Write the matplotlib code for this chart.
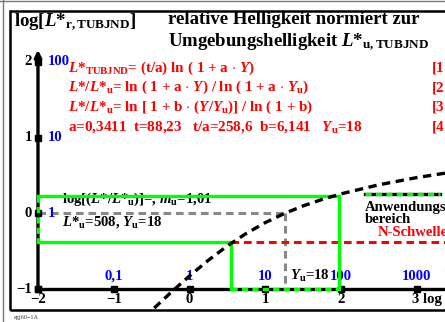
import matplotlib
matplotlib.use("Agg")
from matplotlib import pyplot as plt
from matplotlib.lines import Line2D

plt.rcParams['font.family'] = 'Liberation Serif'
plt.rcParams['font.weight'] = 'bold'
plt.rcParams['mathtext.fontset'] = 'custom'
plt.rcParams['mathtext.rm'] = 'Liberation Serif:bold'
plt.rcParams['mathtext.bf'] = 'Liberation Serif:bold'
plt.rcParams['mathtext.it'] = 'Liberation Serif:italic:bold'
plt.rcParams['lines.scale_dashes'] = False

# relative lightness curve: log Y against log(L*/L*u)
curve_logY = [-0.6, -0.5, -0.25, 0.0, 0.25, 0.5, 0.75, 1.0, 1.25, 1.5, 1.75,
              2.0, 2.5, 3.0, 3.5]
curve_logL = [-1.378, -1.283, -1.049, -0.826, -0.618, -0.429, -0.264, -0.122,
              -0.002, 0.099, 0.184, 0.258, 0.378, 0.473, 0.551]

# range of application (green) and threshold level
range_logY = [0.55, 1.97]
range_logL = [-0.38, 0.225]
log_Yu = 1.255

x_ticks = [-2, -1, 0, 1, 2, 3]
x_labels = ['\u22122', '\u22121', '0', '1', '2', '3 log']
y_ticks = [-1, 0, 1, 2]
y_labels = ['\u22121', '0', '1', '2']
Y_ticks = [-1, 0, 1, 2, 3]
Y_labels = ['0,1', '1', '10', '100', '1000']
L_ticks = [0, 1, 2]
L_labels = ['1', '10', '100']

red_lines = [
    r'$L$*$_{\mathrm{TUBJND}}$= (t/a) ln ( 1 + a $\cdot$ $Y$)',
    r'$L$*/$L$*$_{\mathrm{u}}$= ln ( 1 + a $\cdot$ $Y$) / ln ( 1 + a $\cdot$ $Y_{\mathrm{u}}$)',
    r'$L$*/$L$*$_{\mathrm{u}}$= ln [ 1 + b $\cdot$ ($Y$/$Y_{\mathrm{u}}$)] / ln ( 1 + b)',
    r'a=0,3411  t=88,23   t/a=258,6  b=6,141   $Y_{\mathrm{u}}$=18',
]

fig = plt.figure(figsize=(4.45, 3.22), dpi=100)
ax = fig.add_axes([0, 0, 1, 1])
ax.axis('off')
ax.set_xlim(-2.501, 3.369)
ax.set_ylim(-1.436, 2.819)

# outer thin border and inner frame
fig.add_artist(Line2D([0.006, 0.006], [0, 1], color='#777777', lw=1))
fig.add_artist(Line2D([0, 1], [0.998, 0.998], color='#777777', lw=1))
frame = plt.Rectangle((-2.363, -1.277), 6.0, 3.957, fill=False,
                      ec='black', lw=1.8, zorder=1)
ax.add_patch(frame)

fs = 10.6
fs_red = 10.9
fs_title = 13.5
red = '#ff0000'
blue = '#0000ff'
green = '#00ff00'

# gray guide lines at Yu
ax.plot([-2, log_Yu], [0, 0], color='#888888', lw=2.2, dashes=(5.5, 3.5), zorder=2)
ax.plot([log_Yu, log_Yu], [0, -1], color='#888888', lw=2.2, dashes=(5.5, 3.5), zorder=2)

# axes
ax.plot([-2, 3.5], [-1, -1], color='black', lw=2.4, zorder=3, solid_capstyle='butt')
ax.annotate('', xy=(-2, 2.16), xytext=(-2, -1.0),
            arrowprops=dict(arrowstyle='-|>', color='black', lw=2.4,
                            mutation_scale=10, shrinkA=0, shrinkB=0), zorder=3)
ax.plot(x_ticks, [-1] * len(x_ticks), ls='none', marker='s', ms=4.5, color='black', zorder=4)
ax.plot([-2] * len(y_ticks), y_ticks, ls='none', marker='s', ms=4.5, color='black', zorder=4)

# red threshold line
ax.plot([range_logY[0], 3.5], [range_logL[0]] * 2, color=red, lw=2.2,
        dashes=(5.5, 3.5), zorder=2)

# green range of application
x0, x1 = range_logY
y0, y1 = range_logL
ax.plot([-2, x1, x1], [y1, y1, -1], color=green, lw=2.4, zorder=5)
ax.plot([-2, x0, x0], [y0, y0, -1], color=green, lw=2.4, zorder=5)
ax.plot([-2, -2], [y1, y0], color=green, lw=2.4, dashes=(4.5, 3), zorder=5)
ax.plot([x0, x1], [-1, -1], color=green, lw=2.4, dashes=(4.5, 3), zorder=5)

# curve
line, = ax.plot(curve_logY, curve_logL, color='black', lw=2.4,
                dashes=(6, 4), zorder=6)
line.set_clip_path(frame)

# legend sample
ax.plot([2.31, 3.30], [0.25, 0.25], color='black', lw=2.4, zorder=5)
ax.plot([2.31, 3.30], [0.25, 0.25], color=green, lw=2.4, dashes=(4.5, 3), zorder=5)
ax.text(2.31, 0.08, 'Anwendungs', fontsize=fs, va='center', ha='left')
ax.text(2.31, -0.085, 'bereich', fontsize=fs, va='center', ha='left')
ax.text(2.48, -0.25, 'N-Schwelle', fontsize=fs, va='center', ha='left', color=red)

# tick labels
for xt, lab in zip(x_ticks, x_labels):
    if lab.startswith('3'):
        ax.text(xt - 0.065, -1.145, lab, fontsize=fs, ha='left', va='center')
    else:
        ax.text(xt, -1.145, lab, fontsize=fs, ha='center', va='center')
for yt, lab in zip(y_ticks, y_labels):
    ax.text(-2.08, yt, lab, fontsize=fs, ha='right', va='center')
for xt, lab in zip(Y_ticks, Y_labels):
    ax.text(xt, -0.83, lab, fontsize=fs, ha='center', va='center', color=blue, zorder=2)
ax.text(3.34, -0.83, r'$Y$', fontsize=fs, ha='left', va='center', color=blue)
for yt, lab in zip(L_ticks, L_labels):
    ax.text(-1.87, yt, lab, fontsize=fs, ha='left', va='center', color=blue, zorder=7)

ax.text(1.32, -0.83, r'$Y_{\mathrm{u}}$=18', fontsize=fs, ha='left', va='center')

# titles
ax.text(-2.317, 2.53, r'log[$L$*$_{\mathrm{r,TUBJND}}$]', fontsize=fs_title,
        ha='left', va='center')
ax.text(-0.285, 2.555, 'relative Helligkeit normiert zur', fontsize=fs_title,
        ha='left', va='center')
ax.text(-0.285, 2.26, r'Umgebungshelligkeit $L$*$_{\mathrm{u,TUBJND}}$',
        fontsize=fs_title, ha='left', va='center')

# formulas
for i, s in enumerate(red_lines):
    yy = 1.92 - i * 0.26
    ax.text(-1.604, yy, s, fontsize=fs_red, ha='left', va='center', color=red)
    ax.text(3.198, yy, '[%d' % (i + 1), fontsize=fs_red, ha='left', va='center', color=red)

ax.text(-1.68, 0.185, r'log[($L$*/$L$*$_{\mathrm{u}}$)]=, $m_{\mathrm{u}}$=1,01',
        fontsize=fs, ha='left', va='center')
ax.text(-1.68, -0.12, r'$L$*$_{\mathrm{u}}$=508, $Y_{\mathrm{u}}$=18',
        fontsize=fs, ha='left', va='center')

fig.text(0.032, 0.013, 'egj60\u22121A', fontsize=4.5, fontweight='normal',
         color='#333333', ha='left', va='center')

fig.savefig('out.png', dpi=100)
